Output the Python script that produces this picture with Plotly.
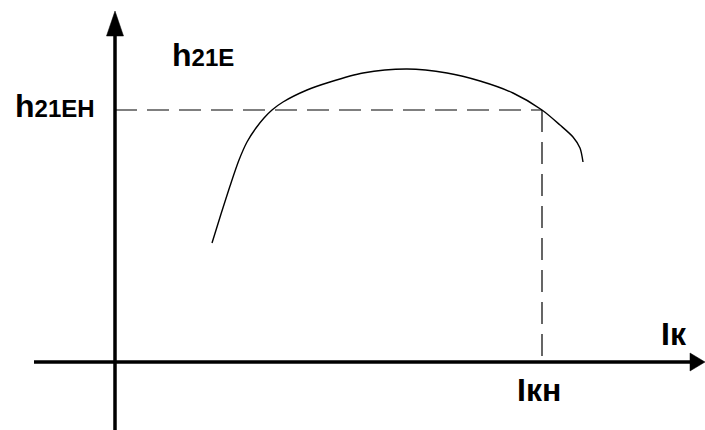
import plotly.graph_objects as go

# Collector current (arbitrary units) and current gain h21E along the curve
ic = [97, 106, 115, 124, 132, 141, 149, 157, 168, 192, 215, 248, 292, 332,
      365, 398, 427, 445, 458, 465, 468]
h21e = [119, 148, 176, 202, 220, 234, 244, 252, 260, 272, 280, 289, 293, 289,
        281, 269, 252, 237, 225, 214, 200]

# Nominal operating point
ic_nom = 427
h21e_nom = 252

# Axis extents (same units as the data)
x_min, x_max = -115, 590
y_min, y_max = -68, 362

FONT = "Liberation Sans, Arial, sans-serif"
INK = "#000000"

fig = go.Figure()

# gain curve
fig.add_trace(go.Scatter(
    x=ic, y=h21e, mode="lines",
    line=dict(color=INK, width=1.4, shape="spline", smoothing=0.8),
    hoverinfo="skip", showlegend=False,
))

# dashed guides to the nominal point
fig.add_trace(go.Scatter(
    x=[0, ic_nom], y=[h21e_nom, h21e_nom], mode="lines",
    line=dict(color=INK, width=1.2, dash="22px,10px"),
    hoverinfo="skip", showlegend=False,
))
fig.add_trace(go.Scatter(
    x=[ic_nom, ic_nom], y=[h21e_nom, 0], mode="lines",
    line=dict(color=INK, width=1.2, dash="22px,10px"),
    hoverinfo="skip", showlegend=False,
))

# axes with arrowheads
ax_w = 3.5
fig.add_shape(type="line", x0=0, x1=0, y0=y_min, y1=326,
              line=dict(color=INK, width=ax_w), layer="above")
fig.add_shape(type="line", x0=-81, x1=575, y0=0, y1=0,
              line=dict(color=INK, width=ax_w), layer="above")
fig.add_shape(type="path", path="M -8.5,326 L 8.5,326 L 0,351 Z",
              fillcolor=INK, line=dict(color=INK, width=0.5), layer="above")
fig.add_shape(type="path", path="M 575,-9 L 575,9 L 590,0 Z",
              fillcolor=INK, line=dict(color=INK, width=0.5), layer="above")

def label(text, x, y, xanchor, yanchor):
    fig.add_annotation(
        x=x, y=y, xref="x", yref="y", text=text, showarrow=False,
        xanchor=xanchor, yanchor=yanchor,
        font=dict(family=FONT, size=32, color=INK, weight="bold"),
    )

sub = "<span style='font-size:24px'>{}</span>"
label("h" + sub.format("21Е"), 55, 307, "left", "middle")
label("h" + sub.format("21ЕН"), -18, h21e_nom + 4, "right", "middle")
label("Iк", 544, 28, "left", "middle")
label("Iкн", ic_nom - 3, -28, "center", "middle")

fig.update_layout(
    width=705, height=430,
    margin=dict(l=0, r=0, t=0, b=0),
    paper_bgcolor="white", plot_bgcolor="white",
    xaxis=dict(range=[x_min, x_max], visible=False, fixedrange=True),
    yaxis=dict(range=[y_min, y_max], visible=False, fixedrange=True),
    showlegend=False,
)

fig.write_html("out.html")
